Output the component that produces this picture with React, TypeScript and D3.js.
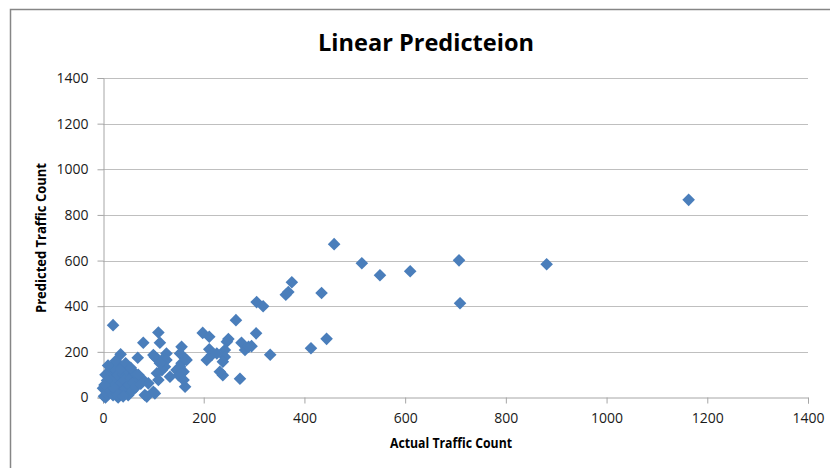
import { useEffect, useRef } from "react"
import * as d3 from "d3"

// actual vs predicted traffic counts
const actualCounts = [
  1163, 881, 707, 709, 610, 550, 514, 459, 434, 444, 413, 375, 363, 368, 305, 318, 264, 304, 332,
  198, 211, 246, 249, 211, 206, 216, 242, 242, 238, 275, 282, 289, 295, 238, 272, 226, 232,
  20, 110, 80, 113, 35, 69, 156, 153, 163, 126, 100, 107, 117, 156, 146, 160, 150, 163, 126, 123,
  117, 107, 133, 110, 87, 100, 70, 80, 60, 166, 153, 156, 160, 103, 113, 90, 103, 83,
  0, 2, 5, 8, 10, 12, 15, 15, 18, 20, 22, 25, 25, 28, 30, 30, 32, 35, 38, 40, 42, 45, 48, 50, 52,
  55, 58, 60, 62, 65, 35, 45, 25, 5, 10, 28, 40, 20, 15, 70, 75, 55, 8, 3,
]
const predictedCounts = [
  866, 584, 601, 413, 553, 536, 588, 672, 458, 257, 216, 505, 450, 462, 418, 400, 339, 281, 187,
  283, 266, 244, 256, 211, 164, 186, 208, 178, 157, 240, 208, 222, 225, 98, 82, 193, 113,
  317, 285, 240, 240, 189, 174, 222, 193, 171, 193, 186, 171, 164, 150, 120, 113, 98, 47, 164, 135,
  120, 106, 91, 77, 4, 25, 84, 77, 55, 164, 135, 106, 77, 178, 150, 62, 18, 11,
  40, 5, 0, 20, 60, 110, 90, 30, 135, 10, 70, 50, 120, 95, 0, 30, 145, 60, 20, 100, 75, 40, 120, 10, 55,
  85, 30, 65, 110, 45, 125, 150, 160, 100, 140, 15, 5, 45, 75, 100, 60, 130, 75, 55,
]
const xTicks = [0, 200, 400, 600, 800, 1000, 1200, 1400]
const yTicks = [0, 200, 400, 600, 800, 1000, 1200, 1400]

const W = 830
const H = 468
const font = "'Open Sans', 'Liberation Sans', sans-serif"

export default function App() {
  const svgRef = useRef<SVGSVGElement>(null)

  useEffect(() => {
    if (!svgRef.current) return
    const svg = d3.select(svgRef.current)
    svg.selectAll("*").remove()

    const left = 103
    const right = 808
    const top = 78
    const bottom = 397.5

    const x = d3.scaleLinear().domain([0, 1400]).range([left, right])
    const y = d3.scaleLinear().domain([0, 1400]).range([bottom, top])

    // chart frame (runs off the right and bottom edges)
    svg.append("rect")
      .attr("x", 10.5).attr("y", 9.5)
      .attr("width", 900).attr("height", 600)
      .attr("fill", "#fff").attr("stroke", "#868686").attr("stroke-width", 1.5)

    svg.append("text")
      .attr("x", 426).attr("y", 51)
      .attr("text-anchor", "middle")
      .attr("font-family", font).attr("font-weight", "bold").attr("font-size", 24)
      .attr("textLength", 216).attr("lengthAdjust", "spacingAndGlyphs")
      .text("Linear Predicteion")

    // horizontal gridlines
    svg.append("g")
      .selectAll("line")
      .data(yTicks.filter((t) => t > 0))
      .enter()
      .append("line")
      .attr("x1", left).attr("x2", right)
      .attr("y1", (d) => Math.round(y(d)) + 0.5).attr("y2", (d) => Math.round(y(d)) + 0.5)
      .attr("stroke", "#bfbfbf")

    const yAxis = svg.append("g")
      .attr("transform", `translate(${left + 0.5},0)`)
      .call(d3.axisLeft(y).tickValues(yTicks).tickSize(6).tickPadding(9).tickFormat(d3.format("d")))
    yAxis.select(".domain").attr("stroke", "#a6a6a6")
    yAxis.selectAll(".tick line").attr("stroke", "#a6a6a6")
    yAxis.selectAll("text").attr("font-family", font).attr("font-size", 14).attr("fill", "#1a1a1a")

    const xAxis = svg.append("g")
      .attr("transform", `translate(0,${bottom})`)
      .call(d3.axisBottom(x).tickValues(xTicks).tickSize(6).tickPadding(10).tickFormat(d3.format("d")))
    xAxis.select(".domain").attr("stroke", "#a6a6a6")
    xAxis.selectAll(".tick line").attr("stroke", "#a6a6a6")
    xAxis.selectAll("text").attr("font-family", font).attr("font-size", 14).attr("fill", "#1a1a1a")

    svg.append("text")
      .attr("x", 451).attr("y", 448)
      .attr("text-anchor", "middle")
      .attr("font-family", font).attr("font-weight", "bold").attr("font-size", 14)
      .attr("textLength", 122).attr("lengthAdjust", "spacingAndGlyphs")
      .text("Actual Traffic Count")

    svg.append("text")
      .attr("transform", `translate(46,238) rotate(-90)`)
      .attr("text-anchor", "middle")
      .attr("font-family", font).attr("font-weight", "bold").attr("font-size", 14)
      .attr("textLength", 150).attr("lengthAdjust", "spacingAndGlyphs")
      .text("Predicted Traffic Count")

    const r = 6.3
    const diamond = `M0,${-r}L${r},0L0,${r}L${-r},0Z`
    svg.append("g")
      .selectAll("path")
      .data(actualCounts.map((a, i) => [a, predictedCounts[i]]))
      .enter()
      .append("path")
      .attr("transform", (d) => `translate(${x(d[0])},${y(d[1])})`)
      .attr("d", diamond)
      .attr("fill", "#4a7ebb")
  }, [])

  return (
    <div style={{ position: "absolute", left: 0, top: 0, width: W, height: H, background: "#fff" }}>
      <svg ref={svgRef} width={W} height={H} style={{ display: "block" }} />
    </div>
  )
}
